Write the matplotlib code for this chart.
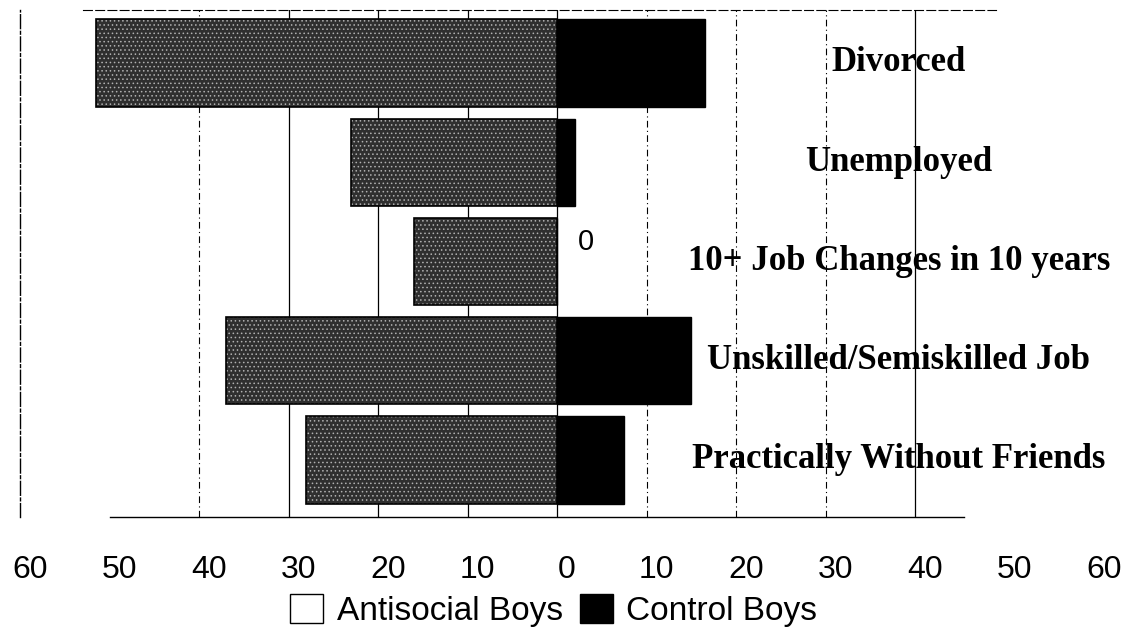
import numpy as np
import matplotlib.pyplot as plt
import matplotlib.transforms as mtransforms
from matplotlib.patches import Patch

categories = ['Divorced', 'Unemployed', '10+ Job Changes in 10 years',
              'Unskilled/Semiskilled Job', 'Practically Without Friends']
antisocial = [51.5, 23, 16, 37, 28]
control = [16.5, 2, 0, 15, 7.5]
ticks = [-60, -50, -40, -30, -20, -10, 0, 10, 20, 30, 40, 50, 60]

plt.rcParams['hatch.linewidth'] = 0.6

fig = plt.figure(figsize=(11.3, 6.37), dpi=100)
ax = fig.add_axes([20/1130, 1-517/637, (1094-20)/1130, (517-10)/637])

y = np.arange(len(categories))
h = 0.88

# antisocial bars (negative side), mottled grey
neg = -np.array(antisocial)
ax.barh(y, neg, height=h, color='#2f2f2f', hatch='....', edgecolor='#b0b0b0', linewidth=0, zorder=3)
ax.barh(y, neg, height=h, fill=False, edgecolor='black', linewidth=1.2, zorder=4)
# control bars
ax.barh(y, control, height=h, color='black', edgecolor='black', linewidth=1, zorder=3)

# zero value label
for i in range(len(categories)):
    if control[i] == 0:
        ax.text(2.3, y[i] - 0.2, '0', fontsize=21, family='Liberation Sans', va='center', ha='left')

# category labels
for i in range(len(categories)):
    ax.text(38.2, y[i], categories[i], fontsize=25, family='Liberation Serif',
            fontweight='bold', ha='center', va='center', zorder=5)

# vertical grid lines
for g in [-40, 10, 20, 30]:
    ax.axvline(g, color='black', lw=0.8, ls=(0, (6, 3, 1, 3)), zorder=1)
for g in [-30, -20, -10, 0, 40]:
    ax.axvline(g, color='black', lw=0.9, zorder=1)

ax.set_xlim(-60, 60)
ax.set_ylim(4.575, -0.534)
ax.set_xticks(ticks)
ax.set_xticklabels([str(abs(t)) for t in ticks], fontsize=23, family='Liberation Sans')
ax.set_yticks([])
ax.tick_params(axis='x', length=0, pad=27)
shift = mtransforms.ScaledTranslation(10/100, 0, fig.dpi_scale_trans)
for lab in ax.get_xticklabels():
    lab.set_transform(lab.get_transform() + shift)

ax.spines['right'].set_visible(False)
ax.spines['top'].set_linestyle((0, (8, 3)))
ax.spines['top'].set_linewidth(0.8)
ax.spines['top'].set_bounds(-53, 49)
ax.spines['bottom'].set_linewidth(1.0)
ax.spines['bottom'].set_bounds(-50, 45.5)
ax.spines['left'].set_linewidth(1.0)
ax.spines['left'].set_linestyle((0, (10, 2, 2, 2)))

handles = [Patch(facecolor='white', edgecolor='black', label='Antisocial Boys'),
           Patch(facecolor='black', edgecolor='black', label='Control Boys')]
fig.legend(handles=handles, loc='center', bbox_to_anchor=(0.49, 0.042), ncol=2,
           frameon=False, prop={'family': 'Liberation Sans', 'size': 24},
           handlelength=1.0, handleheight=1.0, handletextpad=0.4, columnspacing=0.5)

fig.savefig('out.png', dpi=100)
